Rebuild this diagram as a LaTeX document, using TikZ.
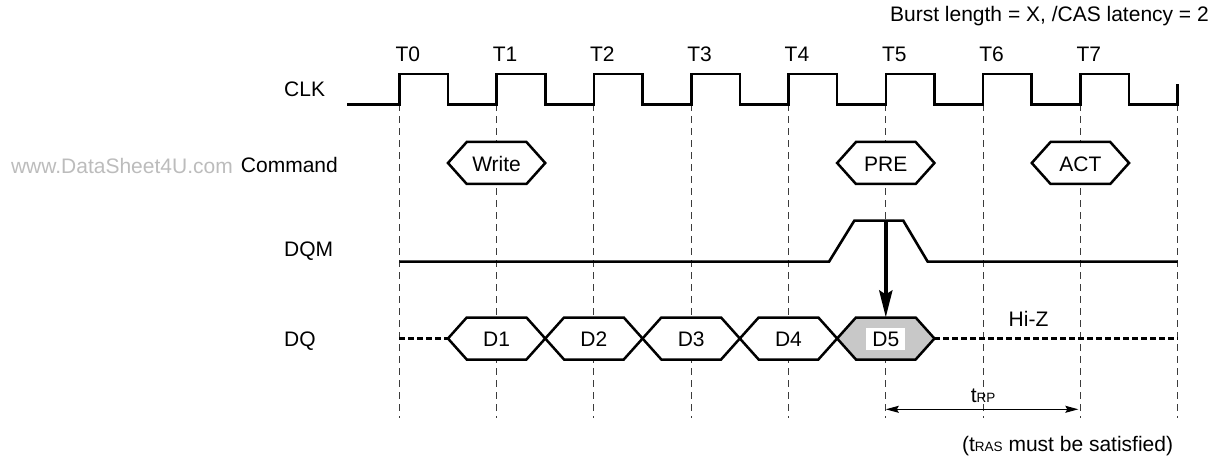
\documentclass[tikz,border=0pt]{standalone}
\usepackage{fontspec}
\setmainfont{Liberation Sans}
\usetikzlibrary{arrows.meta}
\definecolor{dfill}{HTML}{C8C8C8}
\definecolor{wmark}{HTML}{BCBCBC}
\definecolor{gridc}{HTML}{3C3C3C}
\newcommand{\hexat}[3]{%
  \path[hexline,fill=#3] ({#1-48.65},#2) -- ({#1-29.85},{#2-21}) -- ({#1+29.85},{#2-21})
    -- ({#1+48.65},#2) -- ({#1+29.85},{#2+21}) -- ({#1-29.85},{#2+21}) -- cycle;}
\newcommand{\subsz}{\fontsize{13.5}{15}\selectfont}
\tikzset{
  lbl/.style={font=\fontsize{21}{25}\selectfont, inner sep=0pt},
  sig/.style={draw=black, line width=2.6pt, line join=miter},
  hexline/.style={draw=black, line width=2.5pt, line join=miter},
  gridline/.style={draw=gridc, line width=1pt, dash pattern=on 7pt off 5pt},
  hiz/.style={draw=black, line width=2.5pt, dash pattern=on 5.5pt off 3.5pt},
  bigarrow/.style={draw=black, line width=4pt, -{Stealth[length=27pt,width=13pt,inset=4pt]}},
  dimarrow/.style={draw=black, line width=1pt, {Stealth[length=13pt,width=7pt,inset=2pt]}-{Stealth[length=13pt,width=7pt,inset=2pt]}}
}
\begin{document}
\begin{tikzpicture}[x=1pt,y=-1pt]
\useasboundingbox (0,0) rectangle (1213,457);
% grid lines
\foreach \i in {0,...,8}
  \draw[gridline] ({399.3+97.3*\i},104.3) -- ({399.3+97.3*\i},418);
% clock
\draw[sig] (347,104.3) foreach \i in {0,...,7} {
  -- ({399.3+97.3*\i},104.3) -- ({399.3+97.3*\i},74) -- ({447.95+97.3*\i},74) -- ({447.95+97.3*\i},104.3) }
  -- (1177.7,104.3) -- (1177.7,84);
% T labels
\foreach \i in {0,...,7}
  \node[lbl,anchor=base west] (tl\i) at ({395.3+97.3*\i},61.7) {T\i};
\node[lbl,anchor=base east] (burst) at (1209,21.7) {Burst length = X, /CAS latency = 2};
% row labels
\node[lbl,anchor=base west] (clk) at (284,96.6) {CLK};
\node[lbl,anchor=base east] (cmd) at (338,172.5) {Command};
\node[lbl,anchor=base east,text=wmark] (wm) at (233,174) {www.DataSheet4U.com};
\node[lbl,anchor=base west] (dqm) at (284,256.7) {DQM};
\node[lbl,anchor=base west] (dq) at (284,346.7) {DQ};
% command hexagons
\hexat{496.6}{163}{white}
\hexat{885.8}{163}{white}
\hexat{1080.4}{163}{white}
\node[lbl,anchor=base] (write) at (496.6,171.7) {Write};
\node[lbl,anchor=base] (pre) at (885.8,171.7) {PRE};
\node[lbl,anchor=base] (act) at (1080.4,171.7) {ACT};
% DQM
\coordinate (pk) at (885.8,220.7);
\draw[sig] (399.3,261.7) -- (829,261.7) -- (854.3,220.7) -- (903.3,220.7) -- (927.7,261.7) -- (1177.7,261.7);
% DQ
\draw[hiz] (399.3,338.5) -- (448.65,338.5);
\draw[hiz] (934.45,338.5) -- (1177.7,338.5);
\hexat{496.6}{338.5}{white}
\hexat{593.9}{338.5}{white}
\hexat{691.2}{338.5}{white}
\hexat{788.5}{338.5}{white}
\hexat{885.8}{338.5}{dfill}
\node[lbl,anchor=base] (d1) at (496.6,346.7) {D1};
\node[lbl,anchor=base] (d2) at (593.9,346.7) {D2};
\node[lbl,anchor=base] (d3) at (691.2,346.7) {D3};
\node[lbl,anchor=base] (d4) at (788.5,346.7) {D4};
\node[lbl,fill=white,text height=15pt,text depth=0pt,inner xsep=6pt,inner ysep=3.5pt] (d5) at (885.8,339) {D5};
\node[lbl,anchor=base west] (hiz) at (1008.5,326) {Hi-Z};
\coordinate (d5top) at (885.8,317.5);
\draw[bigarrow] (pk) -- (d5top);
% tRP
\coordinate (rp1) at (885.8,409.3);
\coordinate (rp2) at (1078.3,409.3);
\draw[dimarrow] (rp1) -- (rp2);
\node[lbl,anchor=base west] (trp) at (970.7,402.7) {t{\subsz RP}};
\node[lbl,anchor=base east] (tras) at (1173.3,451) {(t{\subsz RAS} must be satisfied)};
\end{tikzpicture}
\end{document}
